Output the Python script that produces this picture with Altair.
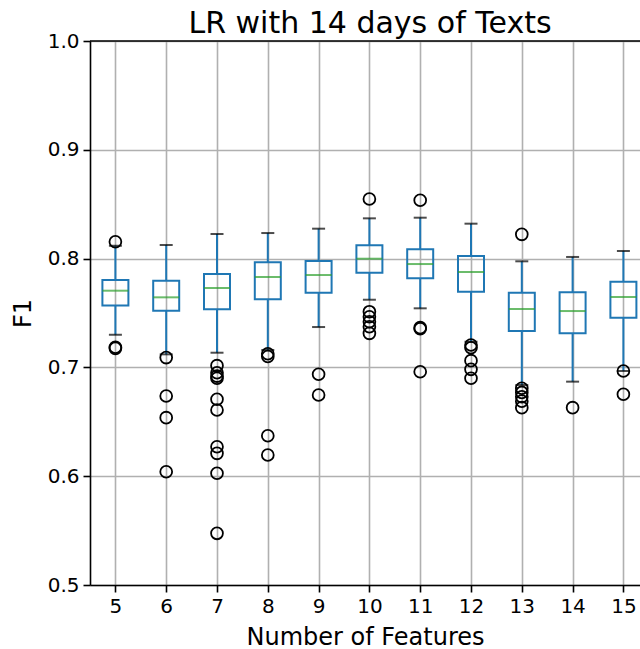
import altair as alt
import pandas as pd

features = [5, 6, 7, 8, 9, 10, 11, 12, 13, 14, 15]
whis_hi = [0.8118, 0.8125, 0.8226, 0.8235, 0.8275, 0.8370, 0.8376, 0.8321, 0.7975, 0.8015, 0.8070]
q3 = [0.7803, 0.7797, 0.7858, 0.7966, 0.7978, 0.8122, 0.8085, 0.8024, 0.7687, 0.7690, 0.7788]
median = [0.7705, 0.7644, 0.7730, 0.7831, 0.7849, 0.7999, 0.7950, 0.7877, 0.7537, 0.7518, 0.7647]
q1 = [0.7570, 0.7521, 0.7534, 0.7626, 0.7687, 0.7870, 0.7819, 0.7696, 0.7335, 0.7313, 0.7457]
whis_lo = [0.7300, 0.7120, 0.7135, 0.7160, 0.7371, 0.7622, 0.7543, 0.7236, 0.6838, 0.6869, 0.6967]

outliers = {
    5: [0.8155, 0.7185, 0.7175],
    6: [0.7090, 0.6737, 0.6538, 0.6041],
    7: [0.7016, 0.6951, 0.6920, 0.6900, 0.6707, 0.6608, 0.6271, 0.6210, 0.6027, 0.5475],
    8: [0.7125, 0.7100, 0.6372, 0.6195],
    9: [0.6937, 0.6746],
    10: [0.8548, 0.7512, 0.7466, 0.7420, 0.7374, 0.7313],
    11: [0.8536, 0.7365, 0.7355, 0.6960],
    12: [0.7206, 0.7181, 0.7062, 0.6982, 0.6900],
    13: [0.8223, 0.6808, 0.6770, 0.6730, 0.6690, 0.6630],
    14: [0.6630],
    15: [0.6967, 0.6753],
}

x_ticks = features
y_ticks = [0.5, 0.6, 0.7, 0.8, 0.9, 1.0]

stats = pd.DataFrame({
    "feature": features, "whis_hi": whis_hi, "q3": q3,
    "median": median, "q1": q1, "whis_lo": whis_lo,
})
fl = pd.DataFrame(
    [{"feature": k, "value": v} for k, vals in outliers.items() for v in vals]
)

FONT = "DejaVu Sans"
BLUE = "#1f77b4"
GREEN = "#2ca02c"
PX_PER_UNIT = 50.8
W = 550
H = 544

x_axis = alt.Axis(
    values=x_ticks, title="Number of Features", grid=True, gridColor="#b0b0b0",
    gridWidth=1.6, domainColor="black", domainWidth=1.6, tickColor="black",
    tickWidth=1.6, tickSize=7, labelFontSize=20, labelColor="black", labelFont=FONT,
    labelPadding=4, titleFontSize=24, titleFont=FONT, titleFontWeight="normal",
    titleColor="black", titlePadding=9, labelFlush=False,
)
y_axis = alt.Axis(
    values=y_ticks, format=".1f", title="F1", grid=True, gridColor="#b0b0b0",
    gridWidth=1.6, domainColor="black", domainWidth=1.6, tickColor="black",
    tickWidth=1.6, tickSize=7, labelFontSize=20, labelColor="black", labelFont=FONT,
    labelPadding=4, titleFontSize=24, titleFont=FONT, titleFontWeight="normal",
    titleColor="black", titlePadding=12, labelFlush=False,
)
x_scale = alt.Scale(domain=[4.5, 4.5 + W / PX_PER_UNIT], nice=False, zero=False, padding=0)
y_scale = alt.Scale(domain=[0.5, 1.0], nice=False, zero=False, padding=0)


def X():
    return alt.X("feature:Q", scale=x_scale, axis=x_axis)


def Yf(field):
    return alt.Y(f"{field}:Q", scale=y_scale, axis=y_axis)


base = alt.Chart(stats)

whisk_up = base.mark_rule(color=BLUE, strokeWidth=2).encode(
    x=X(), y=Yf("q3"), y2="whis_hi:Q")
whisk_lo = base.mark_rule(color=BLUE, strokeWidth=2).encode(
    x=X(), y=Yf("whis_lo"), y2="q1:Q")
box = base.mark_bar(size=26, fillOpacity=0, stroke=BLUE, strokeWidth=2).encode(
    x=X(), y=Yf("q1"), y2="q3:Q")
med = base.mark_tick(orient="horizontal", size=26, thickness=2, color=GREEN).encode(
    x=X(), y=Yf("median"))
cap_hi = base.mark_tick(orient="horizontal", size=13, thickness=2, color="black").encode(
    x=X(), y=Yf("whis_hi"))
cap_lo = base.mark_tick(orient="horizontal", size=13, thickness=2, color="black").encode(
    x=X(), y=Yf("whis_lo"))
fliers = alt.Chart(fl).mark_point(
    shape="circle", size=140, filled=False, color="black", strokeWidth=1.8, opacity=1
).encode(x=X(), y=Yf("value"))

top_spine = alt.Chart(pd.DataFrame({"v": [1.0]})).mark_rule(
    color="black", strokeWidth=1.6).encode(y=alt.Y("v:Q", scale=y_scale, axis=y_axis))

chart = alt.layer(
    whisk_up, whisk_lo, box, med, cap_hi, cap_lo, fliers, top_spine
).properties(
    width=W, height=H,
    title=alt.TitleParams("LR with 14 days of Texts", fontSize=30, font=FONT,
                          fontWeight="normal", color="black", anchor="middle",
                          offset=-8, dx=5),
    padding={"left": 90, "top": 41, "right": 0, "bottom": 64},
    autosize="none",
).configure_view(strokeWidth=0).configure(font=FONT)

chart.save("out.html", embed_options={"renderer": "svg", "actions": False})
